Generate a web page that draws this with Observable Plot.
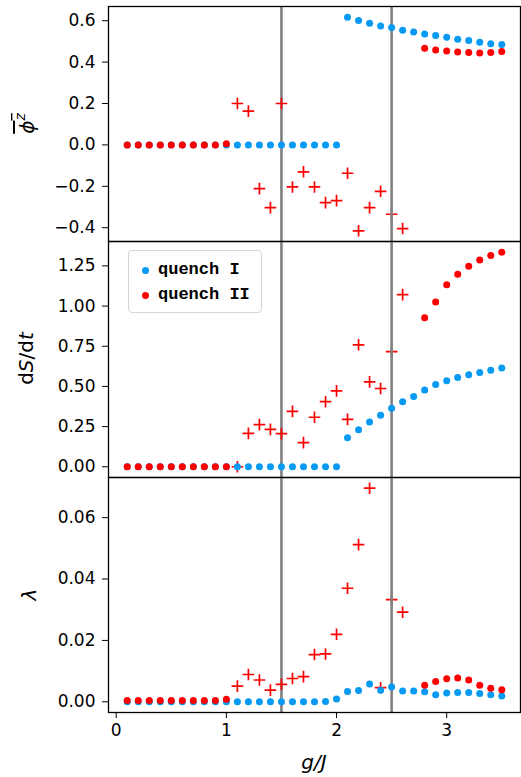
<!DOCTYPE html>
<html>
<head>
<meta charset="utf-8">
<script src="https://cdn.jsdelivr.net/npm/d3@7"></script>
<script src="https://cdn.jsdelivr.net/npm/@observablehq/plot@0.6"></script>
<style>
  body { margin: 0; background: #fff; }
  #fig { position: relative; width: 521px; height: 777px; background: #fff; font-family: "DejaVu Sans", sans-serif; }
  #fig svg { position: absolute; left: 0; overflow: visible; }
  .legend { position: absolute; left: 128px; top: 250px; width: 134px; height: 63px; box-sizing: border-box;
            border: 1px solid #d6d6d6; border-radius: 4px; background: rgba(255,255,255,0.8); }
  .legend .dot { position: absolute; left: 13px; width: 7px; height: 7px; border-radius: 50%; }
  .legend .lab { position: absolute; left: 29px; font: bold 17px "Liberation Mono", "DejaVu Sans Mono", monospace; line-height: 20px; white-space: pre; color: #000; }
</style>
</head>
<body>
<div id="fig"></div>
<script>
// coupling g/J
const g = [0.1, 0.2, 0.3, 0.4, 0.5, 0.6, 0.7, 0.8, 0.9, 1.0,
           1.1, 1.2, 1.3, 1.4, 1.5, 1.6, 1.7, 1.8, 1.9, 2.0,
           2.1, 2.2, 2.3, 2.4, 2.5, 2.6, 2.7, 2.8, 2.9, 3.0,
           3.1, 3.2, 3.3, 3.4, 3.5];

// quench II is unstable (drawn as "+") in this window of g/J
const unstable = [1.1, 2.6];

// time-averaged order parameter
const phiI = [0, 0, 0, 0, 0, 0, 0, 0, 0, 0,
              0, 0, 0, 0, 0, 0, 0, 0, 0, 0,
              0.617, 0.601, 0.588, 0.575, 0.567, 0.554, 0.546, 0.536, 0.528, 0.520,
              0.510, 0.504, 0.496, 0.489, 0.485];
const phiII = [0, 0, 0, 0, 0, 0, 0, 0, 0, 0.005,
               0.200, 0.163, -0.211, -0.303, 0.200, -0.203, -0.130, -0.203, -0.279, -0.269,
               -0.137, -0.415, -0.303, -0.224, -0.335, -0.404, null, 0.467, 0.459, 0.454,
               0.449, 0.446, 0.444, 0.446, 0.451];

// entropy growth rate
const dSI = [0, 0, 0, 0, 0, 0, 0, 0, 0, 0,
             0, 0, 0, 0, 0, 0, 0, 0, 0, 0,
             0.181, 0.231, 0.279, 0.320, 0.364, 0.404, 0.437, 0.478, 0.512, 0.535,
             0.556, 0.572, 0.587, 0.601, 0.614];
const dSII = [0, 0, 0, 0, 0, 0, 0, 0, 0, 0,
              0.000, 0.208, 0.262, 0.233, 0.206, 0.345, 0.150, 0.308, 0.405, 0.472,
              0.295, 0.759, 0.528, 0.487, 0.716, 1.071, null, 0.928, 1.025, 1.133,
              1.198, 1.248, 1.287, 1.314, 1.335];

// Lyapunov exponent
const lamI = [0, 0, 0, 0, 0, 0, 0, 0, 0, 0,
              0, 0, 0, 0, 0, 0, 0, 0, 0.0001, 0.0009,
              0.0034, 0.0037, 0.0058, 0.0038, 0.0048, 0.0035, 0.0035, 0.0033, 0.0023, 0.0029,
              0.0030, 0.0030, 0.0027, 0.0023, 0.0019];
const lamII = [0.0004, 0.0004, 0.0004, 0.0004, 0.0004, 0.0004, 0.0004, 0.0004, 0.0004, 0.0008,
               0.0051, 0.0089, 0.0071, 0.0038, 0.0057, 0.0076, 0.0082, 0.0154, 0.0156, 0.0220,
               0.0370, 0.0512, 0.0696, 0.0046, 0.0333, 0.0292, null, 0.0054, 0.0066, 0.0075,
               0.0078, 0.0071, 0.0054, 0.0044, 0.0039];

const criticalG = [1.5, 2.5];
const seriesNames = ["quench I", "quench II"];

const yTicksPhi = [-0.4, -0.2, 0, 0.2, 0.4, 0.6];
const yTicksDS = [0, 0.25, 0.5, 0.75, 1.0, 1.25];
const yTicksLam = [0, 0.02, 0.04, 0.06];
const xTicks = [0, 1, 2, 3];

const colorI = "#069af3";
const colorII = "#ff0000";

const W = 521, ML = 108, MR = 1;

// 5% padding like matplotlib autoscaling
const pad = ([a, b]) => [a - 0.05 * (b - a), b + 0.05 * (b - a)];
const xDomain = pad(d3.extent(g));
const minus = (s) => s.replace("-", "\u2212");

// stroked "+" marker
const plusSymbol = {
  draw(ctx, size) {
    const r = Math.sqrt(size / Math.PI);
    ctx.moveTo(-r, 0); ctx.lineTo(r, 0);
    ctx.moveTo(0, -r); ctx.lineTo(0, r);
  }
};

function rows(ys) {
  return g.map((x, i) => ({x, y: ys[i]})).filter(d => d.y != null);
}

function panel({yI, yII, ticks, fmt, height, marginTop, marginBottom, xAxis}) {
  const all = yI.concat(yII).filter(v => v != null);
  const inWin = d => d.x >= unstable[0] - 1e-9 && d.x <= unstable[1] + 1e-9;
  const II = rows(yII);
  return Plot.plot({
    width: W, height, marginLeft: ML, marginRight: MR, marginTop, marginBottom,
    style: {fontFamily: "DejaVu Sans, sans-serif", fontSize: "17px", background: "transparent", overflow: "visible"},
    x: xAxis
      ? {domain: xDomain, ticks: xTicks, tickSize: 6, tickPadding: 5, tickFormat: d => String(d), label: null}
      : {domain: xDomain, axis: null},
    y: {domain: pad(d3.extent(all)), ticks, tickFormat: fmt, tickSize: 6, tickPadding: 7, label: null},
    marks: [
      Plot.ruleX([criticalG[0]], {stroke: "#808080", strokeWidth: 2.6}),
      Plot.dot(II.filter(inWin), {x: "x", y: "y", symbol: plusSymbol, r: 5.8, stroke: colorII, strokeWidth: 1.7, fill: "none"}),
      Plot.ruleX([criticalG[1]], {stroke: "#808080", strokeWidth: 2.6}),
      Plot.dot(rows(yI), {x: "x", y: "y", r: 3.5, fill: colorI}),
      Plot.dot(II.filter(d => !inWin(d)), {x: "x", y: "y", r: 3.5, fill: colorII}),
      Plot.frame({stroke: "#000", strokeWidth: 1.3})
    ]
  });
}

const fig = document.getElementById("fig");

const p1 = panel({yI: phiI, yII: phiII, ticks: yTicksPhi, fmt: d => minus(d.toFixed(1)),
                  height: 241, marginTop: 6, marginBottom: 0});
p1.style.top = "0px";
const p2 = panel({yI: dSI, yII: dSII, ticks: yTicksDS, fmt: d => minus(d.toFixed(2)),
                  height: 236, marginTop: 0, marginBottom: 0});
p2.style.top = "241px";
const p3 = panel({yI: lamI, yII: lamII, ticks: yTicksLam, fmt: d => minus(d.toFixed(2)),
                  height: 300, marginTop: 0, marginBottom: 65, xAxis: true});
p3.style.top = "477px";
fig.append(p1, p2, p3);

// axis titles
function yTitle(svg, x, cy, parts) {
  const t = d3.select(svg).append("text")
    .attr("transform", `translate(${x},${cy}) rotate(-90)`)
    .attr("text-anchor", "middle")
    .attr("font-family", "DejaVu Sans, sans-serif")
    .attr("font-size", 20)
    .attr("fill", "#000");
  for (const [s, italic, sup] of parts) {
    const ts = t.append("tspan").attr("font-style", italic ? "italic" : "normal").text(s);
    if (sup) ts.attr("font-size", 14).attr("dy", -9);
  }
  return t;
}
// time-averaged phi^z, with an overbar across the symbol
yTitle(p1, 34, 123.5, [["\u03d5", true], ["z", true, true]])
  .style("text-decoration", "overline");
yTitle(p2, 33, 117.5, [["d", false], ["S", true], ["/d", false], ["t", true]]);
yTitle(p3, 36, 117.5, [["\u03bb", true]]);

d3.select(p3).append("text")
  .attr("x", 314).attr("y", 292)
  .attr("text-anchor", "middle")
  .attr("font-family", "DejaVu Sans, sans-serif")
  .attr("font-size", 20)
  .attr("font-style", "italic")
  .attr("fill", "#000")
  .text("g/J");

// legend
const legend = document.createElement("div");
legend.className = "legend";
[colorI, colorII].forEach((c, i) => {
  const dot = document.createElement("div");
  dot.className = "dot";
  dot.style.background = c;
  dot.style.top = (16 + 25 * i) + "px";
  const lab = document.createElement("div");
  lab.className = "lab";
  lab.style.top = (9 + 25 * i) + "px";
  lab.textContent = seriesNames[i];
  legend.append(dot, lab);
});
fig.append(legend);
</script>
</body>
</html>
